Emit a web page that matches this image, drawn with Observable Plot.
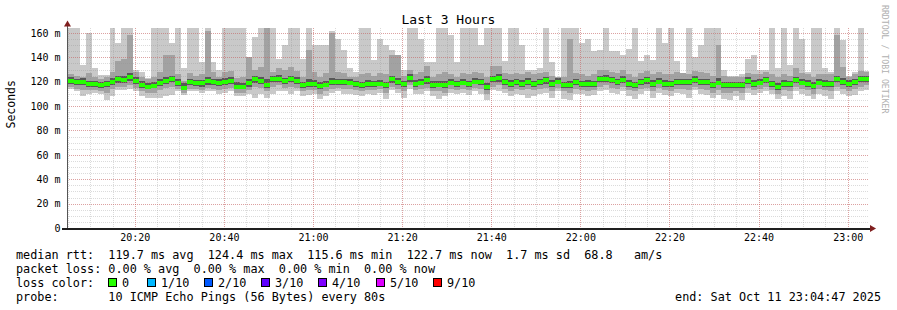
<!DOCTYPE html>
<html><head><meta charset="utf-8">
<script src="https://cdn.jsdelivr.net/npm/d3@7"></script>
<script src="https://cdn.jsdelivr.net/npm/@observablehq/plot@0.6"></script>
<style>
html,body{margin:0;padding:0;background:#fff;}
#wrap{position:relative;width:897px;height:310px;overflow:hidden;font-family:"DejaVu Sans Mono",monospace;color:#000;background:#fff;}
#wrap svg{position:absolute;left:0;top:0;}
.t{position:absolute;white-space:pre;font-size:11.8px;line-height:14px;}
.title{position:absolute;left:0;top:12px;width:897px;text-align:center;font-size:13px;line-height:16px;white-space:pre;}
.wm{position:absolute;left:880px;top:5px;writing-mode:vertical-rl;font-size:8.2px;line-height:10px;color:#b0b0b0;white-space:pre;}
.sq{position:absolute;width:7px;height:7px;border:1px solid #000;}
</style></head><body><div id="wrap"></div>
<script>
const startTime = "2025-10-11T20:04:47Z";
const endTime = "2025-10-11T23:04:47Z";
const firstStep = "2025-10-11T20:05:00Z";
const stepSeconds = 80;

const maxRtt = [
164,164,133.7,159.7,131,125.5,125.5,164,151.8,164,
164,129.6,128,123,164,164,164,151.8,164,131,
164,164,136,164,136,129.6,164,164,164,164,
136,157,164,164,164,139,150,164,164,139,
164,150,150,150,162,155,146,131,128,164,
164,138,155,150,146,142,130,164,164,155,
136,136,164,164,158,136,164,164,164,150,
164,164,164,137,164,164,150,130,130,131,
164,136,124,164,164,164,152,155,145,146,
164,145,145,142,147,164,137,142,138,164,
152,164,137,127,164,140,150,164,164,164,
130,125,125,126,139,142,130,130,164,131,
164,134,164,155,128,164,164,131,128,164,
154,125,128,164,129];
const ping9 = [
126,125,124,127,124,122,124,128,137,139,
158,128,124,122,124,128,142,142,126,121,
127,125,126,162,128,124,128,129,123,124,
140,130,132,164,128,131,130,132,129,124,
146,128,124,127,160,128,127,124,124,126,
127,125,127,126,142,142,125,130,126,128,
133,124,126,128,126,124,127,126,128,127,
124,133,133,127,126,127,126,128,126,127,
128,125,123.5,124,155,127,126,125,126,130,
130,128,127,130,126,124,127,129,126,128,
126,126,128,127,126,129,128,127,125,150,
125,124,124,124,127,126,126,128,126,124,
126,125,131,127,126,124,126,126,126,158,
132,124,126,129,128];
const ping8 = [
124,122.5,123,121,121,120,121,123,125,124.5,
127,123.5,120.5,119,120,122,124,125,122,119,
122.5,121.5,121.5,124,122.5,122,123,123.5,119.5,119,
122,125,124,122,125,125.5,123,125,123.5,120,
122,121.5,119.5,121,123,122.5,122.5,122,121,120,
121.5,121,121.5,120,125,123,121,126,121.5,122,
124.5,120.5,121,120.5,122,121,122,121,123,122,
119,125,126,122.5,121.5,122.5,121.5,123,121,122.5,
124,121.5,123,120,121,122.5,121,121.5,121,125,
125.5,124,122,124.5,121.5,120,122.5,124,121.5,123,
121.5,121,122.5,122.5,122.5,124.5,122.5,122.5,120,123,
120,120,119.5,120,123.5,121.5,122,124,121,119,
121.5,121,124,122,121.5,119.5,122,121.5,121,125,
123,121.5,122.5,125,125];
const medianRtt = [
121.4,120,120.3,118.2,118.2,117.6,118.2,120,122.3,121.5,
124.4,121,118,116.5,117,119.4,121,122.3,119.4,115.6,
120.1,119,119,120.8,120.3,119.4,120.3,121,116.5,116.5,
119,122.3,120.8,117.6,122.3,122.8,120.8,122.3,121,117.4,
118.8,118.8,116.8,118,120,120,120,119.5,118.8,117.4,
118.8,118.8,118.8,117.4,122.3,120,118.8,123.3,118.8,119.5,
121.5,118,118,118,119.5,118.8,119.5,118.3,120.6,119.8,
116,122.3,123.3,120,118.8,120,118.8,120,118.8,120,
121.5,118.8,120.6,117.4,117.4,119.8,118.8,118.8,118.8,122.3,
122.8,121.5,119.8,122,118.8,117.4,120,121.5,118.8,120.6,
118.8,118.8,120,120,120,121.9,120,120,117.4,119.5,
117.4,117.4,117.4,117.4,120.9,118.8,119.5,121.5,118.8,116,
118.8,118.3,121.5,119.5,118.8,116.8,119.5,118.8,118.8,122.3,
120,118.8,120,122.3,122.7];
const ping3 = [
118.5,117,117.5,115.5,115.5,115,115.5,117,119,119,
121,118,115,114,114.5,116.5,118,119.5,116.5,113,
117,116.5,116,117.5,117.5,116.5,117.5,118,114,114,
116,119,118,115,119.5,120,118,119.5,118,115,
116,116,114,115.5,117.5,117.5,117,117,116,115,
116,116,116.5,114.5,119,117,116,120,116,117,
118.5,115,115.5,115,117,116,117,115.5,118,117,
113.5,119.5,120,117.5,116,117.5,116,117,116,117.5,
118.5,116,118,115,115,117,116,116,116,119.5,
120,119,117,119,116,115,117.5,118.5,116,118,
116,116,117.5,117.5,117,119,117.5,117,115,117,
115,115,115,115,118,116,117,119,116,113.5,
116,116,119,117,116,114,117,116,116,119.5,
117,116,117.5,119.5,120];
const ping2 = [
116,114,113,113,113,112,111,114,116,116,
117,115,112,111,111,113,115,116,114,111,
114,114,113,115,114,113,114,115,111,111,
113,116,115,112,116,117,115,116,115,112,
113,113,110,112,114,115,114,114,113,112,
113,113,114,111,116,114,112,117,113,114,
115,112,112,111,114,113,114,113,115,114,
110,116,117,114,112,114,113,114,113,114,
115,112,115,112,111,114,113,112,113,116,
117,115,114,116,113,112,114,115,112,115,
113,112,114,114,113,116,114,113,111,113,
111,111,112,111,115,113,114,116,113,110,
113,112,116,114,113,110,114,113,112,116,
114,112,114,116,117];
const minRtt = [
114,112,108,110,111,110,105,108,113,113,
114,112,108,107,107,107,108,109,112,109,
112,112,111,112,112,110,111,112,108,108,
110,107,110,107,110,112,112,110,112,108,
109,110,106,108,111,112,110,110,109,108,
110,109,111,106,113,111,107,114,110,110,
112,108,106,108,111,110,111,109,112,110,
105,113,112,111,108,110,109,107,108,110,
111,107,112,106,105,110,110,108,109,112,
113,111,110,112,108,106,110,112,107,111,
109,108,111,110,107,113,110,109,107,109,
106,105,108,105,111,109,111,112,110,106,
108,106,112,110,108,106,110,108,106,112,
110,108,109,112,113];

const xTickLabels = ["20:20","20:40","21:00","21:20","21:40","22:00","22:20","22:40","23:00"];
const yTickValues = [0,20,40,60,80,100,120,140,160];
const yTickLabels = ["0","20 m","40 m","60 m","80 m","100 m","120 m","140 m","160 m"];
const lossLabels = ["0","1/10","2/10","3/10","4/10","5/10","9/10"];
const lossColors = ["#26ff00","#00b8ff","#0059ff","#5e00ff","#7e00ff","#dd00ff","#ff0000"];
const statsLine = "median rtt:  119.7 ms avg  124.4 ms max  115.6 ms min  122.7 ms now  1.7 ms sd  68.8   am/s";
const lossLine = "packet loss: 0.00 % avg  0.00 % max  0.00 % min  0.00 % now";
const probeLine = "probe:       10 ICMP Echo Pings (56 Bytes) every 80s";
const endLine = "end: Sat Oct 11 23:04:47 2025";

const series = {maxRtt, ping9, ping8, medianRtt, ping3, ping2, minRtt};
for (const [k, a] of Object.entries(series)) if (a.length !== medianRtt.length) throw new Error(k + " length " + a.length);

const t0ms = Date.parse(firstStep);
const rows = medianRtt.map((m, i) => ({
  t0: new Date(t0ms + i * stepSeconds * 1000),
  t1: new Date(t0ms + (i + 1) * stepSeconds * 1000),
  max: maxRtt[i], p9: ping9[i], p8: ping8[i], med: m, p3: ping3[i], p2: ping2[i], min: minRtt[i]
}));

const xStart = new Date(startTime), xEnd = new Date(endTime);
const xTicks = xTickLabels.map(l => new Date(`2025-10-11T${l}:00Z`));
const minorX = d3.utcMinute.every(5).range(xStart, xEnd);
const majorX = d3.utcMinute.every(20).range(xStart, xEnd);
const minorY = d3.range(5, 165, 5);
const majorY = yTickValues.filter(v => v > 0);

const chart = Plot.plot({
  width: 897, height: 310,
  marginLeft: 67, marginRight: 28, marginTop: 28, marginBottom: 82,
  style: {fontFamily: "DejaVu Sans Mono", fontSize: "10px", background: "transparent", color: "#000", overflow: "visible"},
  x: {type: "utc", domain: [xStart, xEnd], ticks: xTicks, tickFormat: d3.utcFormat("%H:%M"), tickSize: 0, tickPadding: 5, label: null},
  y: {domain: [0, 164.1], ticks: yTickValues, tickFormat: v => yTickLabels[yTickValues.indexOf(v)], tickSize: 0, tickPadding: 7, label: null},
  marks: [
    Plot.rect(rows, {x1: "t0", x2: "t1", y1: "min", y2: "max", fill: "#c9c9c9", clip: true, shapeRendering: "crispEdges"}),
    Plot.rect(rows, {x1: "t0", x2: "t1", y1: "p2", y2: "p9", fill: "#a2a2a2", clip: true, shapeRendering: "crispEdges"}),
    Plot.rect(rows, {x1: "t0", x2: "t1", y1: "p3", y2: "p8", fill: "#585858", clip: true, shapeRendering: "crispEdges"}),
    Plot.ruleY(minorY, {stroke: "#8f8f8f", strokeOpacity: 0.32, strokeDasharray: "1,1", shapeRendering: "crispEdges"}),
    Plot.ruleX(minorX, {stroke: "#8f8f8f", strokeOpacity: 0.32, strokeDasharray: "1,1", shapeRendering: "crispEdges"}),
    Plot.ruleY(majorY, {stroke: "#de5050", strokeOpacity: 0.42, strokeDasharray: "1,1", shapeRendering: "crispEdges"}),
    Plot.ruleX(majorX, {stroke: "#de5050", strokeOpacity: 0.42, strokeDasharray: "1,1", shapeRendering: "crispEdges"}),
    Plot.ruleY(rows, {y: "med", x1: "t0", x2: "t1", stroke: "#26ff00", strokeWidth: 4, clip: true, shapeRendering: "crispEdges"}),
    Plot.ruleX([xStart], {stroke: "#555", insetTop: -6, shapeRendering: "crispEdges"}),
    Plot.ruleY([0], {stroke: "#1f1f1f", strokeWidth: 2, insetLeft: -5, insetRight: -3, shapeRendering: "crispEdges"}),
    Plot.dot([0], {frameAnchor: "top-left", dy: -4, symbol: "triangle", r: 2.6, fill: "#801f1f", stroke: "none"}),
    Plot.dot([0], {frameAnchor: "bottom-right", dx: 2.5, symbol: "triangle", rotate: 90, r: 2.6, fill: "#801f1f", stroke: "none"}),
    Plot.text(["Seconds"], {frameAnchor: "left", dx: -56, rotate: -90, fontSize: 11.5, fill: "#000"})
  ]
});

const wrap = document.getElementById("wrap");
wrap.appendChild(chart);

function addDiv(cls, text, left, top, extra) {
  const d = document.createElement("div");
  d.className = cls; d.textContent = text;
  if (left != null) d.style.left = left + "px";
  if (top != null) d.style.top = top + "px";
  if (extra) Object.assign(d.style, extra);
  wrap.appendChild(d);
  return d;
}
addDiv("title", "Last 3 Hours");
addDiv("wm", "RRDTOOL / TOBI OETIKER");
addDiv("t", statsLine, 16, 248);
addDiv("t", lossLine, 16, 262);
addDiv("t", "loss color:", 16, 276);
const sqLeft = [108, 147, 204, 261, 318, 376, 433];
lossLabels.forEach((l, i) => {
  const s = document.createElement("div");
  s.className = "sq";
  s.style.left = sqLeft[i] + "px"; s.style.top = "278px"; s.style.background = lossColors[i];
  wrap.appendChild(s);
  addDiv("t", l, sqLeft[i] + 14, 276);
});
addDiv("t", probeLine, 16, 290);
addDiv("t", endLine, null, 290, {right: "16px"});
</script></body></html>
